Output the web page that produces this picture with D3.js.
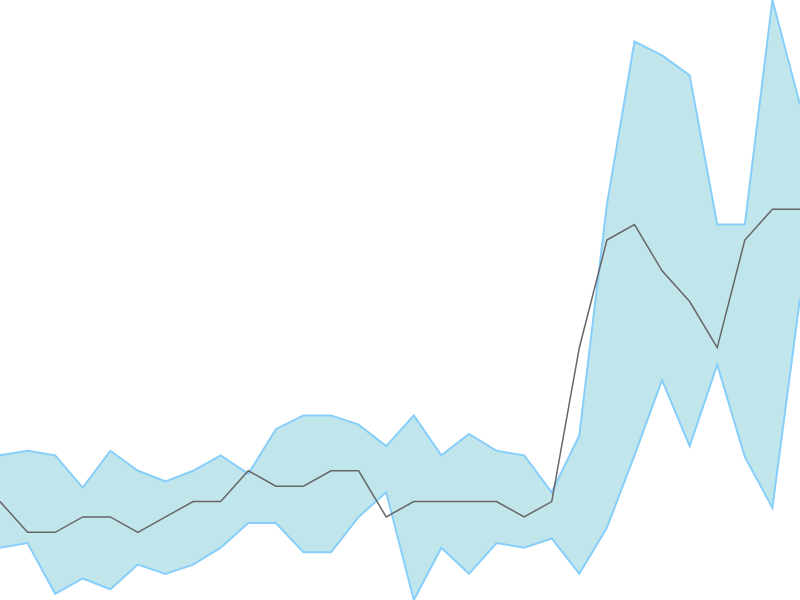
<!DOCTYPE html>
<html>
	<head>
		<meta charset="utf-8">
		<title> band </title>
		<script src="https://cdnjs.cloudflare.com/ajax/libs/d3/7.8.5/d3.min.js"></script>
		<style>
			body { margin: 0; background: #fff; }
			svg { display: block; }
		</style>
	</head>

	<body>
		<script>

		let width = 800,
			height = 600;

		// band values
		let upper = [19.0, 19.3, 19.0, 16.9, 19.3, 18.0, 17.3, 18.0, 19.0, 17.8,
					20.7, 21.6, 21.6, 21.0, 19.6, 21.6, 19.0, 20.4, 19.3, 19.0,
					16.6, 20.3, 35.3, 45.9, 45.0, 43.7, 34.0, 34.0, 48.6, 41.8];

		let middle = [16, 14, 14, 15, 15, 14, 15, 16, 16, 18,
					17, 17, 18, 18, 15, 16, 16, 16, 16, 15,
					16, 26, 33, 34, 31, 29, 26, 33, 35, 35];

		let lower = [13.0, 13.3, 10.0, 11.0, 10.3, 11.9, 11.3, 11.9, 13.0, 14.6,
					14.6, 12.7, 12.7, 15.0, 16.6, 9.6, 13.0, 11.3, 13.3, 13.0,
					13.6, 11.3, 14.3, 19.0, 23.9, 19.6, 24.9, 18.9, 15.6, 29.2];

		let xScale = d3.scaleLinear()
						.domain([0, middle.length - 1])
						.range([0, width]);

		let yScale = d3.scaleLinear()
						.domain([d3.min(lower), d3.max(upper)])
						.range([height, 0]);

		let svg = d3.select('body')
					.append('svg')
					.attr('width', width)
					.attr('height', height);

		let idx = d3.range(middle.length);

		let area = d3.area()
					.x(i => xScale(i))
					.y0(i => yScale(lower[i]))
					.y1(i => yScale(upper[i]));

		svg.append('path')
			.datum(idx)
			.attr('d', area)
			.attr('fill', 'powderblue')
			.attr('fill-opacity', 0.8)
			.attr('stroke', 'none');

		let edge = (arr) => d3.line()
					.x(i => xScale(i))
					.y(i => yScale(arr[i]));

		[upper, lower].forEach(arr => {
			svg.append('path')
				.datum(idx)
				.attr('d', edge(arr))
				.attr('fill', 'none')
				.attr('stroke', 'lightskyblue')
				.attr('stroke-width', 2);
		});

		svg.append('path')
			.datum(idx)
			.attr('d', edge(middle))
			.attr('fill', 'none')
			.attr('stroke', '#666')
			.attr('stroke-width', 1.5);

		</script>
	</body>
</html>
